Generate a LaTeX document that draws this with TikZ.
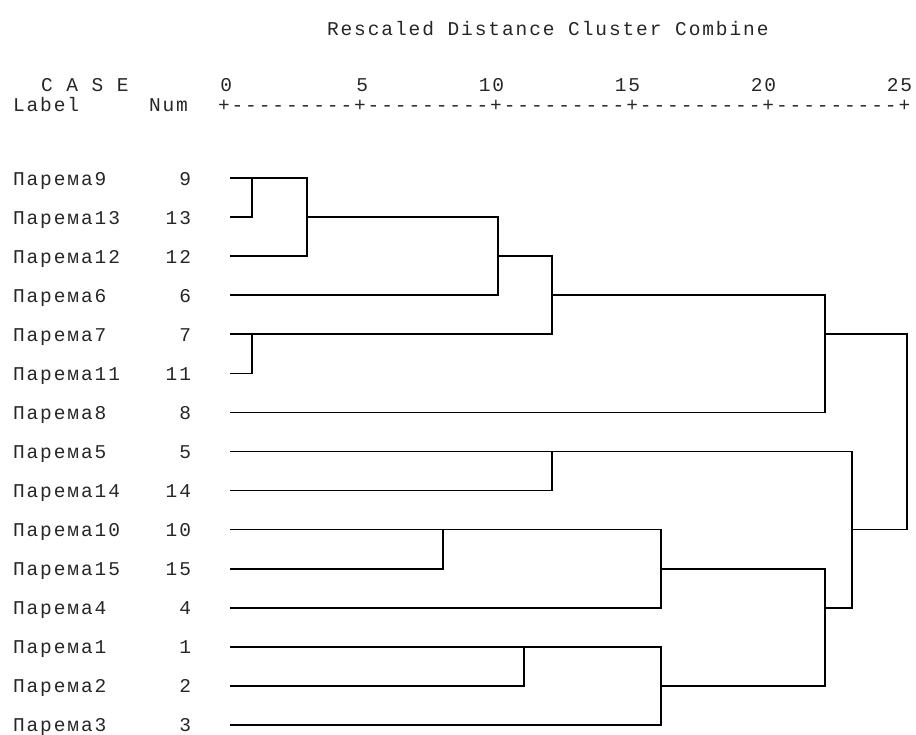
\documentclass[tikz,border=0pt]{standalone}
\usepackage{fontspec}
\newfontfamily\dmono[LetterSpace=9.8]{Liberation Mono}
\begin{document}
\begin{tikzpicture}[x=1bp,y=-1bp,
  txt/.style={inner sep=0pt,outer sep=0pt,font=\dmono\fontsize{19.5bp}{21bp}\selectfont,text=black!85},
  link/.style={line width=1.7bp,black,line cap=rect}]
\useasboundingbox (0,0) rectangle (916,735);
% title
\node[txt,anchor=base west] (title) at (327,36) {Rescaled Distance Cluster Combine};
% header
\node[txt,anchor=base west] (case) at (41,92) {C A S E};
\node[txt,anchor=base west] (lab) at (13,112) {Label};
\node[txt,anchor=base west] (num) at (149,112) {Num};
\node[txt,anchor=base west] (scale) at (218,112) {+---------+---------+---------+---------+---------+};
\foreach \v/\c in {0/15,5/25,10/35,15/45,20/55,25/65}{
  \node[txt,anchor=base east] (t\v) at ({14.5+(\c+1)*13.6},92) {\v};
}
% rows
\foreach \n/\k in {9/0,13/1,12/2,6/3,7/4,11/5,8/6,5/7,14/8,10/9,15/10,4/11,1/12,2/13,3/14}{
  \pgfmathsetmacro\yy{178+39.07*\k}
  \node[txt,anchor=base west] (name\n) at (13,\yy+7) {Парема\n};
  \node[txt,anchor=base east] (no\n) at (191,\yy+7) {\n};
  \coordinate (l\n) at (231,\yy);
}
% dendrogram
\draw[link] (l9) -- (l9 -| 307,0) -- (l12 -| 307,0) -- (l12);
\draw[link] (l13) -- (l13 -| 252,0) -- (l9 -| 252,0);
\draw[link] (l13 -| 307,0) -- (l13 -| 498,0) -- (l6 -| 498,0) -- (l6);
\draw[link] (l12 -| 498,0) -- (l12 -| 552,0) -- (l7 -| 552,0) -- (l7);
\draw[link] (l11) -- (l11 -| 252,0) -- (l7 -| 252,0);
\draw[link] (l6 -| 552,0) -- (l6 -| 825,0) -- (l8 -| 825,0) -- (l8);
\draw[link] (l7 -| 825,0) -- (l7 -| 907,0) -- (l10 -| 907,0) -- (l10 -| 852,0);
\draw[link] (l5) -- (l5 -| 852,0) -- (l4 -| 852,0) -- (l4 -| 825,0);
\draw[link] (l14) -- (l14 -| 552,0) -- (l5 -| 552,0);
\draw[link] (l10) -- (l10 -| 661,0) -- (l4 -| 661,0) -- (l4);
\draw[link] (l15) -- (l15 -| 443,0) -- (l10 -| 443,0);
\draw[link] (l15 -| 661,0) -- (l15 -| 825,0) -- (l2 -| 825,0) -- (l2 -| 661,0);
\draw[link] (l1) -- (l1 -| 661,0) -- (l3 -| 661,0) -- (l3);
\draw[link] (l2) -- (l2 -| 524,0) -- (l1 -| 524,0);
\end{tikzpicture}
\end{document}
